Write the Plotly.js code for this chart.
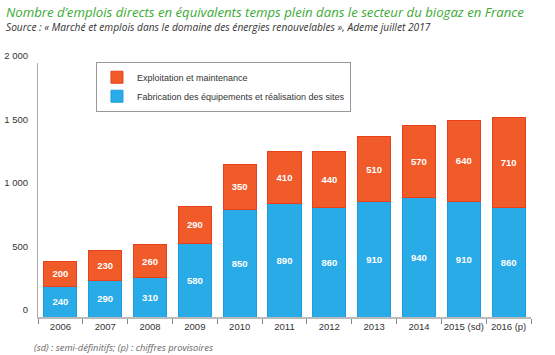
<!DOCTYPE html>
<html>
<head>
<meta charset="utf-8">
<script src="https://cdn.plot.ly/plotly-3.0.1.min.js"></script>
<style>html,body{margin:0;padding:0;background:#fff}#chart{width:555px;height:355px}</style>
</head>
<body>
<div id="chart"></div>
<script>
const years = ["2006","2007","2008","2009","2010","2011","2012","2013","2014","2015 (sd)","2016 (p)"];
const fabrication = [240,290,310,580,850,890,860,910,940,910,860];
const exploitation = [200,230,260,290,350,410,440,510,570,640,710];
const yTickVals = [0,500,1000,1500,2000];
const yTickText = ["0","500","1 000","1 500","2 000"];
const seriesNames = ["Fabrication des équipements et réalisation des sites","Exploitation et maintenance"];

const sans = "Liberation Sans, Arial, sans-serif";
const textFont = {family:sans, size:9.5, color:"#ffffff", weight:"bold"};
const traces = [
  {type:"bar", name:seriesNames[0], x:years, y:fabrication, text:fabrication.map(String),
   textposition:"inside", insidetextanchor:"middle", textfont:textFont, textangle:0,
   marker:{color:"#29ABE8", line:{color:"#1E9EE0", width:1}}, hoverinfo:"none"},
  {type:"bar", name:seriesNames[1], x:years, y:exploitation, text:exploitation.map(String),
   textposition:"inside", insidetextanchor:"middle", textfont:textFont, textangle:0,
   marker:{color:"#F15A29", line:{color:"#E8401C", width:1}}, hoverinfo:"none"}
];

const layout = {
  width:555, height:355,
  margin:{l:38, r:24, t:63, b:38},
  barmode:"stack", bargap:0.26,
  paper_bgcolor:"#fff", plot_bgcolor:"#fff",
  font:{family:sans, size:10, color:"#333"},
  showlegend:true,
  legend:{x:0.1176, y:1.005, xanchor:"left", yanchor:"top", traceorder:"reversed",
    bgcolor:"#fff", bordercolor:"#999", borderwidth:1, font:{family:sans, size:9, color:"#333"},
    itemwidth:30, tracegroupgap:0},
  xaxis:{type:"category", showline:true, linecolor:"#bbb", linewidth:2, ticks:"outside",
    tickson:"boundaries", ticklen:5, tickcolor:"#888", tickangle:0,
    tickfont:{family:sans, size:9.5, color:"#333"},
    showgrid:false, zeroline:false, fixedrange:true},
  yaxis:{range:[0,2000], tickvals:yTickVals, ticktext:yTickText, showline:true, linecolor:"#aaa",
    linewidth:1, ticks:"", showgrid:false, zeroline:false, tickfont:{family:sans, size:9.5, color:"#333"},
    ticklabelshift:-7, ticklabelstandoff:7, fixedrange:true},
  annotations:[
    {xref:"paper", yref:"paper", xanchor:"left", yanchor:"middle", x:(4-38)/493, y:1+(63-12)/254,
     text:"Nombre d’emplois directs en équivalents temps plein dans le secteur du biogaz en France",
     showarrow:false, font:{family:"Open Sans, sans-serif", size:13.2, color:"#3AAA35", style:"italic"}},
    {xref:"paper", yref:"paper", xanchor:"left", yanchor:"middle", x:(4-38)/493, y:1+(63-27)/254,
     text:"Source : « Marché et emplois dans le domaine des énergies renouvelables », Ademe juillet 2017",
     showarrow:false, font:{family:"Open Sans, sans-serif", size:10.2, color:"#333", style:"italic"}},
    {xref:"paper", yref:"paper", xanchor:"left", yanchor:"middle", x:(32-38)/493, y:-(347-317)/254,
     text:"(sd) : semi-définitifs; (p) : chiffres provisoires",
     showarrow:false, font:{family:"Open Sans, sans-serif", size:9.3, color:"#666", style:"italic"}}
  ]
};
Plotly.newPlot("chart", traces, layout, {displayModeBar:false, staticPlot:true});
</script>
</body>
</html>
